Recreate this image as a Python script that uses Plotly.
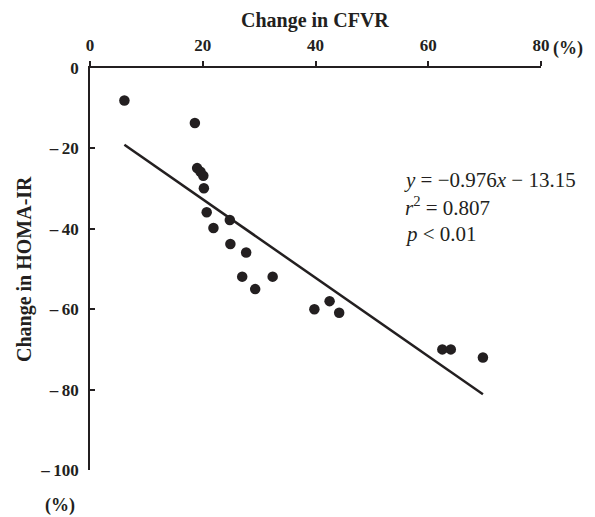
import plotly.graph_objects as go

# Data
cfvr_change = [6.1, 18.6, 19.0, 19.6, 20.1, 20.2, 20.7, 24.8, 21.9, 24.9, 27.7, 27.0, 32.4, 29.3,
               39.8, 42.5, 44.2, 62.5, 64.0, 69.7]
homa_change = [-8.1, -13.7, -24.9, -25.8, -26.8, -29.9, -35.9, -37.8, -39.8, -43.8, -45.9, -51.9, -51.9, -55.0,
               -60.0, -58.0, -60.9, -70.0, -70.0, -72.0]
slope = -0.976
intercept = -13.15
r_squared = 0.807

x_ticks = [0, 20, 40, 60, 80]
x_ticklabels = ["0", "20", "40", "60", "80"]
y_ticks = [0, -20, -40, -60, -80, -100]
y_ticklabels = ["0", "\u2013\u200920", "\u2013\u200940", "\u2013\u200960", "\u2013\u200980", "\u2013\u2009100"]

ink = "#231f20"
font_fam = "Liberation Serif"

# layout geometry (page offset of 8px for the html body margin)
OFF = 8
L, T, W, H = 82, 60, 451, 402
FW, FH = 595, 517


def px(page_x):
    return (page_x - OFF - L) / W


def py(page_y):
    return 1 - (page_y - OFF - T) / H


line_x = [min(cfvr_change), max(cfvr_change)]
line_y = [slope * v + intercept for v in line_x]

fig = go.Figure()
fig.add_trace(go.Scatter(x=cfvr_change, y=homa_change, mode="markers",
                         marker=dict(size=10.5, color=ink), showlegend=False, cliponaxis=False))
fig.add_trace(go.Scatter(x=line_x, y=line_y, mode="lines",
                         line=dict(color=ink, width=2.5), showlegend=False))

tickfont = dict(family=font_fam, size=17, color=ink, weight="bold")
fig.update_layout(
    width=FW, height=FH,
    margin=dict(l=L, r=FW - L - W, t=T, b=FH - T - H),
    paper_bgcolor="white", plot_bgcolor="white",
    font=dict(family=font_fam, color=ink),
    xaxis=dict(range=[0, 80], side="top", tickvals=x_ticks,
               ticktext=[f"<b>{t}</b>" for t in x_ticklabels],
               showgrid=False, zeroline=False, showline=True, linecolor=ink, linewidth=1.8,
               ticks="outside", ticklen=5, tickwidth=1.5, tickcolor=ink,
               tickfont=tickfont, ticklabelstandoff=3),
    yaxis=dict(range=[-100, 0], tickvals=y_ticks,
               ticktext=[f"<b>{t}</b>" for t in y_ticklabels],
               showgrid=False, zeroline=False, showline=True, linecolor=ink, linewidth=1.8,
               ticks="inside", ticklen=5, tickwidth=1.5, tickcolor=ink,
               tickfont=tickfont, ticklabelstandoff=6),
)


def ann(text, x, y, size, xanchor="center", angle=0):
    fig.add_annotation(text=text, xref="paper", yref="paper", x=px(x), y=py(y),
                       xanchor=xanchor, yanchor="middle", textangle=angle, showarrow=False,
                       font=dict(family=font_fam, size=size, color=ink))


ann("<b>Change in CFVR</b>", 315, 21, 20)
ann("<b>Change in HOMA-IR</b>", 24, 269, 20, angle=-90)
ann("<b>(%)</b>", 568, 48, 18)
ann("<b>(%)</b>", 60, 505, 18)

ann(f"<i>y</i> = \u2212{abs(slope):.3f}<i>x</i> \u2212 {abs(intercept):.2f}", 402, 180, 21, xanchor="left")
ann(f"<i>r</i><sup>2</sup> = {r_squared:.3f}", 403, 207, 21, xanchor="left")
ann("<i>p</i> < 0.01", 403, 234, 21, xanchor="left")

fig.write_html("out.html")
